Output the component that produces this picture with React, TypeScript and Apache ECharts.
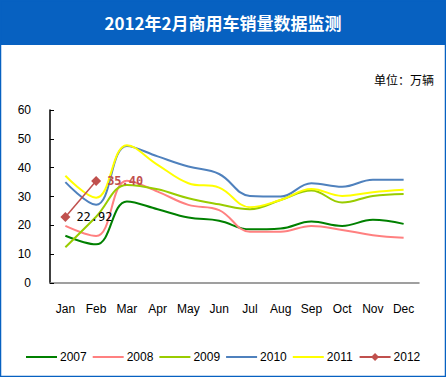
import React, { useEffect, useRef } from "react";
import * as echarts from "echarts";

const months = ["Jan", "Feb", "Mar", "Apr", "May", "Jun", "Jul", "Aug", "Sep", "Oct", "Nov", "Dec"];
const yTicks = [0, 10, 20, 30, 40, 50, 60];
const s2007 = [16.4, 13.4, 28.3, 25.6, 22.7, 21.6, 18.6, 18.9, 21.3, 19.8, 21.9, 20.5];
const s2008 = [19.8, 16.3, 35.5, 31.7, 27.1, 25.3, 17.8, 17.8, 19.8, 18.4, 16.6, 15.7];
const s2009 = [12.4, 23.0, 34.0, 32.5, 29.4, 27.3, 25.6, 28.8, 32.1, 27.9, 30.2, 30.9];
const s2010 = [35.0, 27.1, 47.5, 43.9, 40.4, 37.8, 30.2, 30.0, 34.6, 33.4, 35.8, 35.8];
const s2011 = [37.2, 29.6, 47.8, 41.0, 34.6, 33.1, 26.3, 28.8, 32.6, 30.2, 31.5, 32.3];
const s2012 = [22.92, 35.4];
const seriesNames = ["2007", "2008", "2009", "2010", "2011", "2012"];
const seriesColors = ["#008000", "#FF8080", "#99CC00", "#4F81BD", "#FFFF00", "#C0504D"];
const title = "2012年2月商用车销量数据监测";
const unitText = "单位：万辆";

const lineIcon = "path://M0,0 L0.01,0 L0,0.01 Z M0,4 L31,4 L31,6 L0,6 Z M31,10 L30.99,10 L31,9.99 Z";

export default function App() {
  const ref = useRef<HTMLDivElement>(null);
  useEffect(() => {
    const chart = echarts.init(ref.current!, null, { renderer: "svg" });
    const lineData = [s2007, s2008, s2009, s2010, s2011];
    const series: any[] = lineData.map((d, i) => ({
      name: seriesNames[i],
      type: "line",
      data: d,
      smooth: 0.4,
      symbol: "none",
      lineStyle: { color: seriesColors[i], width: 2 },
      itemStyle: { color: seriesColors[i] },
    }));
    series.push({
      name: seriesNames[5],
      type: "line",
      data: s2012.map((v, i) => ({
        value: v,
        label: {
          show: true,
          position: "right",
          distance: 6,
          formatter: (p: any) => p.value.toFixed(2),
          fontFamily: "DejaVu Sans Mono",
          fontSize: 12,
          color: i === 0 ? "#000000" : "#C0504D",
          fontWeight: i === 0 ? "normal" : "bold",
        },
      })),
      symbol: "diamond",
      symbolSize: 10,
      lineStyle: { color: seriesColors[5], width: 1.5 },
      itemStyle: { color: seriesColors[5] },
      z: 5,
    });
    chart.setOption({
      animation: false,
      backgroundColor: "#ffffff",
      textStyle: { fontFamily: "Liberation Sans, Arial, sans-serif" },
      graphic: [
        { type: "rect", shape: { x: 0, y: 0, width: 446, height: 45 }, style: { fill: "#0761C1" }, z: 0 },
        {
          type: "rect",
          shape: { x: 0.5, y: 0.5, width: 445, height: 376 },
          style: { fill: "none", stroke: "#0761C1", lineWidth: 1.5 },
          z: 0,
        },
        {
          type: "text",
          x: 223,
          y: 22,
          style: {
            text: title,
            fill: "#ffffff",
            font: "bold 17px 'Noto Sans CJK SC'",
            textAlign: "center",
            textVerticalAlign: "middle",
          },
        },
        {
          type: "text",
          x: 434,
          y: 79,
          style: {
            text: unitText,
            fill: "#000000",
            font: "12px 'Noto Sans CJK SC'",
            textAlign: "right",
            textVerticalAlign: "middle",
          },
        },
      ],
      legend: {
        left: 21,
        top: 346,
        itemWidth: 31,
        itemHeight: 10,
        itemGap: 6,
        data: seriesNames.map((n, i) => (i < 5 ? { name: n, icon: lineIcon } : { name: n })),
        textStyle: { fontSize: 12, color: "#000", fontFamily: "Liberation Sans", padding: [0, 0, 0, -2] },
      },
      grid: { left: 50, right: 27, top: 110, bottom: 94 },
      xAxis: {
        type: "category",
        data: months,
        boundaryGap: true,
        axisLine: { lineStyle: { color: "#808080", width: 1.5 } },
        axisTick: { inside: true, length: 4, lineStyle: { color: "#808080" } },
        axisLabel: { color: "#000", fontSize: 12, margin: 20 },
      },
      yAxis: {
        type: "value",
        min: yTicks[0],
        max: yTicks[yTicks.length - 1],
        interval: 10,
        axisLine: { show: true, lineStyle: { color: "#000", width: 1.5 } },
        axisTick: { show: true, inside: true, length: 4, lineStyle: { color: "#000" } },
        splitLine: { show: false },
        axisLabel: { color: "#000", fontSize: 12, margin: 19 },
      },
      series,
    });
    return () => chart.dispose();
  }, []);
  return <div ref={ref} style={{ position: "fixed", left: 0, top: 0, width: 446, height: 377 }} />;
}
